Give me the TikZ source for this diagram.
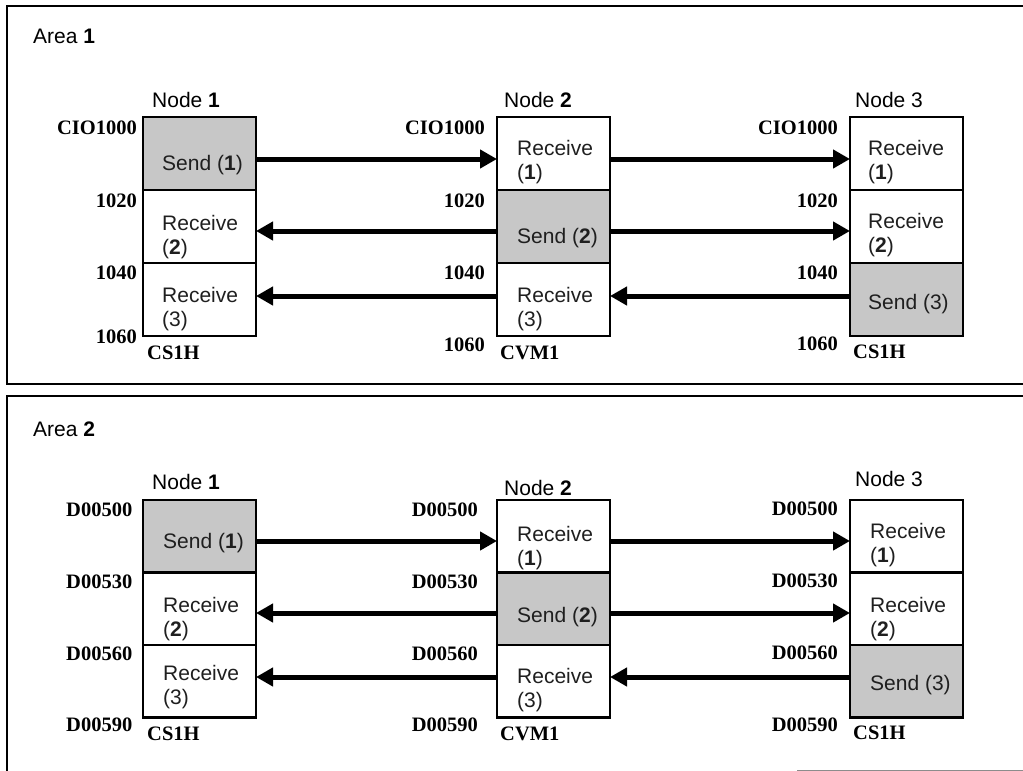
\documentclass[tikz,border=0pt]{standalone}
\usepackage{fontspec}
\setmainfont{Liberation Sans}
\newfontfamily\labfont{Liberation Serif}
\usetikzlibrary{arrows.meta}
\begin{document}
\begin{tikzpicture}[x=1pt,y=-1pt,
 cell/.style={draw, line width=2.5pt, minimum width=113pt, minimum height=73pt, inner sep=0pt, outer sep=0pt},
 cellb/.style={cell, minimum height=72.5pt},
 sendfill/.style={fill=black!22},
 txt/.style={anchor=base west, inner sep=0pt, font=\fontsize{21}{24}\selectfont, text=black!88},
 lab/.style={anchor=base east, inner sep=0pt, font=\labfont\bfseries\fontsize{20.5}{24}\selectfont},
 plc/.style={anchor=base west, inner sep=0pt, font=\labfont\bfseries\fontsize{20.5}{24}\selectfont},
 hdr/.style={anchor=base west, inner sep=0pt, font=\fontsize{21}{24}\selectfont},
 arr/.style={line width=5pt, -{Triangle[length=17pt,width=18pt]}},
 framestyle/.style={line width=2.5pt}]
\useasboundingbox (0,0) rectangle (1023,771);

% frames
\draw[framestyle] (1023,6) -- (7,6) -- (7,384) -- (1023,384);
\draw[framestyle] (1023,396) -- (7,396) -- (7,771);
\draw[black!45, line width=1pt] (797,770) -- (1023,770);

% ================= AREA 1 =================
\node[hdr] (area1) at (33,43.3) {Area \textbf{1}};
\node[hdr] (h11) at (152,107.3) {Node \textbf{1}};
\node[hdr] (h12) at (504,107.3) {Node \textbf{2}};
\node[hdr] (h13) at (855,107.3) {Node 3};

% cells
\node[cell, sendfill] (a11) at (199.5,153.5) {};
\node[cell] (a12) at (199.5,226.5) {};
\node[cell] (a13) at (199.5,299.5) {};
\node[cell] (a21) at (553.5,153.5) {};
\node[cell, sendfill] (a22) at (553.5,226.5) {};
\node[cell] (a23) at (553.5,299.5) {};
\node[cell] (a31) at (906.5,153.5) {};
\node[cell] (a32) at (906.5,226.5) {};
\node[cell, sendfill] (a33) at (906.5,299.5) {};

% cell texts
\node[txt] (t111) at (162,170.5) {Send (\textbf{1})};
\node[txt] (t121) at (162,230.5) {Receive};
\node[txt] (t122) at (162,254.5) {(\textbf{2})};
\node[txt] (t131) at (162,302.5) {Receive};
\node[txt] (t132) at (162,326.5) {(3)};
\node[txt] (t211) at (517,155.5) {Receive};
\node[txt] (t212) at (517,179.5) {(\textbf{1})};
\node[txt] (t221) at (517,243.5) {Send (\textbf{2})};
\node[txt] (t231) at (517,302.5) {Receive};
\node[txt] (t232) at (517,326.5) {(3)};
\node[txt] (t311) at (868,155.5) {Receive};
\node[txt] (t312) at (868,179.5) {(\textbf{1})};
\node[txt] (t321) at (868,228.5) {Receive};
\node[txt] (t322) at (868,252.5) {(\textbf{2})};
\node[txt] (t331) at (868,309.5) {Send (3)};

% address labels
\node[lab] (l110) at (137,134) {CIO1000};
\node[lab] (l111) at (137,207) {1020};
\node[lab] (l112) at (137,279) {1040};
\node[lab] (l113) at (137,343.5) {1060};
\node[plc] (p11) at (147,359.5) {CS1H};
\node[lab] (l120) at (485,134) {CIO1000};
\node[lab] (l121) at (485,207) {1020};
\node[lab] (l122) at (485,279) {1040};
\node[lab] (l123) at (485,351) {1060};
\node[plc] (p12) at (500,359) {CVM1};
\node[lab] (l130) at (838,134) {CIO1000};
\node[lab] (l131) at (838,207) {1020};
\node[lab] (l132) at (838,279) {1040};
\node[lab] (l133) at (838,350) {1060};
\node[plc] (p13) at (853,358.5) {CS1H};

% arrows
\draw[arr] ([yshift=-5.5pt]a11.east) -- ([yshift=-5.5pt]a21.west);
\draw[arr] ([yshift=-5.5pt]a21.east) -- ([yshift=-5.5pt]a31.west);
\draw[arr] ([yshift=-4.5pt]a22.west) -- ([yshift=-4.5pt]a12.east);
\draw[arr] ([yshift=-4.5pt]a22.east) -- ([yshift=-4.5pt]a32.west);
\draw[arr] ([yshift=3.5pt]a23.west) -- ([yshift=3.5pt]a13.east);
\draw[arr] ([yshift=3.5pt]a33.west) -- ([yshift=3.5pt]a23.east);

% ================= AREA 2 =================
\node[hdr] (area2) at (33,436.7) {Area \textbf{2}};
\node[hdr] (h21) at (152,489.3) {Node \textbf{1}};
\node[hdr] (h22) at (504,495) {Node \textbf{2}};
\node[hdr] (h23) at (855,486) {Node 3};

\node[cellb, sendfill] (b11) at (199.5,536.25) {};
\node[cellb] (b12) at (199.5,608.75) {};
\node[cellb] (b13) at (199.5,681.25) {};
\node[cellb] (b21) at (553.5,536.25) {};
\node[cellb, sendfill] (b22) at (553.5,608.75) {};
\node[cellb] (b23) at (553.5,681.25) {};
\node[cellb] (b31) at (906.5,536.25) {};
\node[cellb] (b32) at (906.5,608.75) {};
\node[cellb, sendfill] (b33) at (906.5,681.25) {};

\node[txt] (s111) at (163,548.5) {Send (\textbf{1})};
\node[txt] (s121) at (163,612.5) {Receive};
\node[txt] (s122) at (163,636) {(\textbf{2})};
\node[txt] (s131) at (163,680.5) {Receive};
\node[txt] (s132) at (163,704) {(3)};
\node[txt] (s211) at (517,541.5) {Receive};
\node[txt] (s212) at (517,565) {(\textbf{1})};
\node[txt] (s221) at (517,622.5) {Send (\textbf{2})};
\node[txt] (s231) at (517,683.5) {Receive};
\node[txt] (s232) at (517,707) {(3)};
\node[txt] (s311) at (870,538.5) {Receive};
\node[txt] (s312) at (870,562) {(\textbf{1})};
\node[txt] (s321) at (870,612.5) {Receive};
\node[txt] (s322) at (870,636) {(\textbf{2})};
\node[txt] (s331) at (870,690.5) {Send (3)};

\node[lab] (m110) at (132.5,516) {D00500};
\node[lab] (m111) at (132.5,588) {D00530};
\node[lab] (m112) at (132.5,660) {D00560};
\node[lab] (m113) at (132.5,731.7) {D00590};
\node[plc] (q11) at (147,740) {CS1H};
\node[lab] (m120) at (478,516) {D00500};
\node[lab] (m121) at (478,588) {D00530};
\node[lab] (m122) at (478,660) {D00560};
\node[lab] (m123) at (478,731.7) {D00590};
\node[plc] (q12) at (500,740) {CVM1};
\node[lab] (m130) at (838,515) {D00500};
\node[lab] (m131) at (838,587.5) {D00530};
\node[lab] (m132) at (838,659) {D00560};
\node[lab] (m133) at (838,731.7) {D00590};
\node[plc] (q13) at (853,739) {CS1H};

\draw[arr] ([yshift=-4.75pt]b11.east) -- ([yshift=-4.75pt]b21.west);
\draw[arr] ([yshift=-4.75pt]b21.east) -- ([yshift=-4.75pt]b31.west);
\draw[arr] ([yshift=-4.25pt]b22.west) -- ([yshift=-4.25pt]b12.east);
\draw[arr] ([yshift=-4.25pt]b22.east) -- ([yshift=-4.25pt]b32.west);
\draw[arr] ([yshift=4.25pt]b23.west) -- ([yshift=4.25pt]b13.east);
\draw[arr] ([yshift=4.25pt]b33.west) -- ([yshift=4.25pt]b23.east);
\end{tikzpicture}
\end{document}
